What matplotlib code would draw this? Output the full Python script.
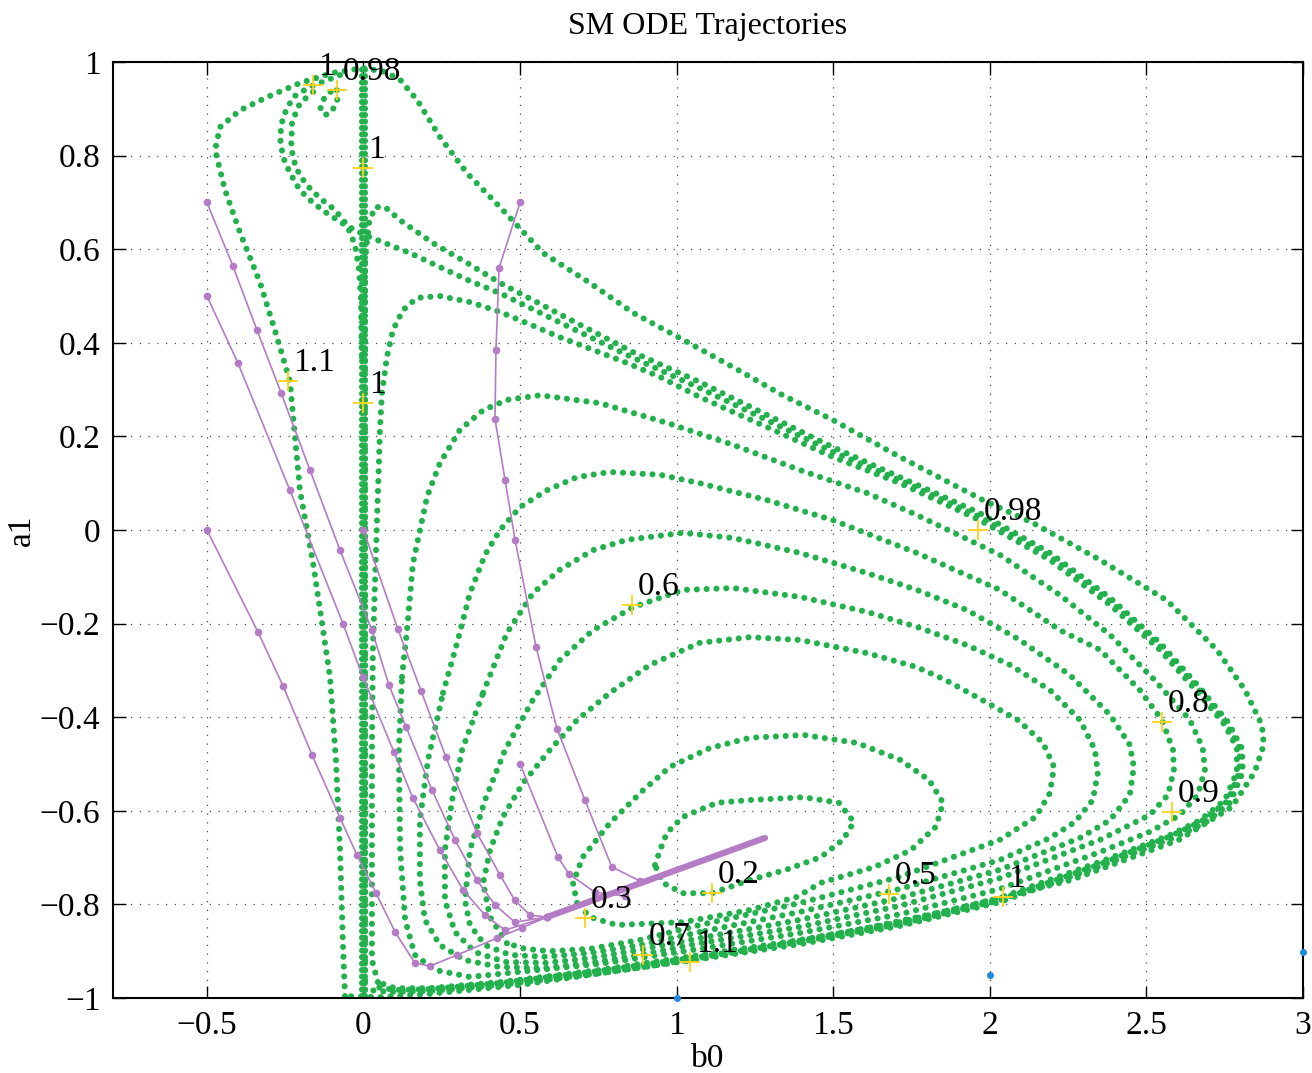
import matplotlib
matplotlib.use("Agg")
import matplotlib.pyplot as plt
from matplotlib.ticker import MultipleLocator, FuncFormatter

plt.rcParams["font.family"] = ["Liberation Serif", "DejaVu Serif"]
plt.rcParams["axes.unicode_minus"] = True

GREEN = "#22B14C"
PURPLE = "#B47CC4"
GOLD = "#FFD21A"
BLUE = "#1B8BDF"

# ---------------------------------------------------------------- data ---
# green trajectories (b0, a1)
loopA_b0 = [0.931, 0.947, 0.969, 1.02, 1.128, 1.234, 1.406, 1.518, 1.566, 1.531, 1.46, 1.349, 1.234, 1.113, 1.02, 0.956, 0.931]
loopA_a1 = [-0.716, -0.684, -0.647, -0.613, -0.583, -0.577, -0.571, -0.583, -0.624, -0.662, -0.699, -0.726, -0.748, -0.776, -0.776, -0.754, -0.716]

loopB_b0 = [0.682, 0.669, 0.7, 0.787, 0.893, 0.979, 1.106, 1.234, 1.406, 1.576, 1.713, 1.806, 1.851, 1.828, 1.748, 1.632, 1.46, 1.384, 1.234, 1.02, 0.809, 0.723, 0.682]
loopB_a1 = [-0.797, -0.754, -0.699, -0.626, -0.556, -0.506, -0.466, -0.444, -0.438, -0.455, -0.491, -0.534, -0.583, -0.634, -0.684, -0.72, -0.754, -0.784, -0.812, -0.838, -0.844, -0.827, -0.797]

loopC_b0 = [0.458, 0.404, 0.382, 0.404, 0.445, 0.509, 0.595, 0.682, 0.787, 0.915, 1.074, 1.234, 1.394, 1.608, 1.767, 1.86, 1.975, 2.09, 2.17, 2.205, 2.192, 2.147, 2.032, 1.713, 1.394, 1.074, 0.883, 0.723, 0.595, 0.516, 0.458]
loopC_a1 = [-0.883, -0.827, -0.754, -0.684, -0.613, -0.541, -0.47, -0.406, -0.348, -0.288, -0.241, -0.229, -0.235, -0.263, -0.293, -0.321, -0.363, -0.406, -0.455, -0.506, -0.562, -0.613, -0.662, -0.741, -0.797, -0.844, -0.876, -0.895, -0.9, -0.895, -0.883]

loopD_b0 = [1.074, 0.883, 0.723, 0.58, 0.468, 0.388, 0.34, 0.324, 0.34, 0.388, 0.452, 0.541, 0.627, 0.733, 0.861, 1.02, 1.18, 1.394, 1.608, 1.767, 1.927, 2.064, 2.192, 2.288, 2.336, 2.345, 2.329, 2.272, 2.192, 2.032, 1.713, 1.394, 1.074]
loopD_a1 = [-0.859, -0.887, -0.904, -0.912, -0.908, -0.887, -0.844, -0.791, -0.684, -0.577, -0.47, -0.363, -0.278, -0.214, -0.165, -0.128, -0.124, -0.143, -0.175, -0.207, -0.246, -0.288, -0.342, -0.406, -0.47, -0.519, -0.577, -0.624, -0.658, -0.705, -0.767, -0.816, -0.859]

loopE_b0 = [0.382, 0.458, 0.541, 0.627, 0.733, 0.841, 1.02, 1.18, 1.394, 1.608, 1.767, 1.927, 2.096, 2.256, 2.384, 2.447, 2.46, 2.447, 2.384, 2.288, 2.032, 1.713, 1.394, 1.074, 0.883, 0.723, 0.58, 0.452, 0.356, 0.292, 0.26, 0.26, 0.283, 0.315, 0.382]
loopE_a1 = [-0.348, -0.22, -0.135, -0.085, -0.043, -0.021, -0.006, -0.017, -0.049, -0.092, -0.128, -0.171, -0.235, -0.31, -0.395, -0.459, -0.506, -0.566, -0.62, -0.658, -0.726, -0.786, -0.833, -0.872, -0.897, -0.915, -0.925, -0.923, -0.902, -0.859, -0.791, -0.684, -0.577, -0.47, -0.348]

loopF_b0 = [0.254, 0.299, 0.34, 0.388, 0.436, 0.5, 0.586, 0.682, 0.787, 0.947, 1.074, 1.288, 1.499, 1.767, 2.032, 2.224, 2.352, 2.479, 2.55, 2.585, 2.588, 2.569, 2.511, 2.352, 2.032, 1.713, 1.394, 1.074, 0.883, 0.723, 0.58, 0.436, 0.324, 0.244, 0.196, 0.18, 0.18, 0.206, 0.254]
loopF_a1 = [-0.348, -0.241, -0.135, -0.053, 0.0, 0.049, 0.085, 0.113, 0.124, 0.118, 0.1, 0.064, 0.021, -0.049, -0.128, -0.214, -0.256, -0.342, -0.406, -0.47, -0.513, -0.566, -0.609, -0.662, -0.744, -0.803, -0.848, -0.883, -0.908, -0.925, -0.936, -0.934, -0.919, -0.887, -0.833, -0.748, -0.62, -0.491, -0.348]

loopG_b0 = [0.123, 0.139, 0.158, 0.203, 0.244, 0.308, 0.382, 0.458, 0.564, 0.755, 0.969, 1.18, 1.394, 1.608, 1.767, 2.032, 2.224, 2.384, 2.527, 2.639, 2.68, 2.687, 2.664, 2.607, 2.511, 2.352, 2.032, 1.713, 1.394, 1.074, 0.755, 0.5, 0.34, 0.228, 0.164, 0.133, 0.117, 0.113, 0.123]
loopG_a1 = [-0.314, -0.214, -0.071, 0.071, 0.143, 0.214, 0.256, 0.278, 0.288, 0.271, 0.229, 0.182, 0.128, 0.079, 0.032, -0.053, -0.139, -0.224, -0.321, -0.406, -0.466, -0.513, -0.566, -0.609, -0.645, -0.688, -0.767, -0.821, -0.861, -0.895, -0.927, -0.944, -0.955, -0.94, -0.908, -0.833, -0.684, -0.47, -0.314]

loopH_b0 = [0.046, 0.027, 0.027, 0.027, 0.03, 0.04, 0.053, 0.059, 0.075, 0.094, 0.126, 0.171, 0.244, 0.34, 0.436, 0.522, 0.627, 0.733, 0.841, 0.947, 1.074, 1.288, 1.499, 1.713, 1.968, 2.192, 2.384, 2.543, 2.672, 2.751, 2.789, 2.789, 2.751, 2.672, 2.575, 2.352, 2.032, 1.713, 1.394, 1.074, 0.755, 0.436, 0.212, 0.101, 0.046]
loopH_a1 = [-0.966, -0.919, -0.684, -0.47, -0.256, -0.043, 0.22, 0.293, 0.37, 0.427, 0.47, 0.496, 0.5, 0.487, 0.466, 0.442, 0.412, 0.385, 0.357, 0.327, 0.284, 0.22, 0.156, 0.1, 0.021, -0.064, -0.16, -0.256, -0.353, -0.417, -0.466, -0.517, -0.577, -0.62, -0.652, -0.709, -0.786, -0.838, -0.876, -0.908, -0.94, -0.966, -0.979, -0.979, -0.966]

loopI_b0 = [-0.059, -0.065, -0.075, -0.088, -0.107, -0.129, -0.161, -0.203, -0.235, -0.283, -0.33, -0.394, -0.442, -0.474, -0.458, -0.394, -0.308, -0.203, -0.097, -0.002, 0.069, 0.117, 0.171, 0.244, 0.33, 0.436, 0.573, 0.723, 0.861, 1.033, 1.18, 1.339, 1.499, 1.713, 1.978, 2.138, 2.352, 2.565, 2.725, 2.815, 2.869, 2.875, 2.846, 2.773, 2.604, 2.259, 1.917, 1.576, 1.234, 0.915, 0.5, 0.212, 0.053, -0.059]
loopI_a1 = [-0.996, -0.897, -0.684, -0.491, -0.314, -0.214, -0.071, 0.085, 0.318, 0.427, 0.528, 0.635, 0.726, 0.812, 0.861, 0.897, 0.925, 0.955, 0.977, 0.987, 0.979, 0.962, 0.919, 0.84, 0.763, 0.69, 0.592, 0.528, 0.464, 0.402, 0.348, 0.288, 0.235, 0.156, 0.064, 0.015, -0.064, -0.15, -0.256, -0.342, -0.417, -0.459, -0.517, -0.592, -0.662, -0.748, -0.806, -0.855, -0.897, -0.932, -0.972, -0.991, -0.998, -0.996]

# trajectories that climb the b0 = 0 column and peel off into the bundle
peelR_b0 = [0.005, 0.005, 0.018, 0.037, 0.069, 0.117, 0.222, 0.33, 0.436, 0.65, 0.861, 1.074, 1.288, 1.499, 1.713, 1.968, 2.192, 2.384, 2.543, 2.672, 2.76, 2.805, 2.808, 2.767, 2.687, 2.585, 2.352, 2.032, 1.713, 1.394, 1.074, 0.755, 0.436, 0.212, 0.085, 0.014]
peelR_a1 = [-0.983, 0.577, 0.658, 0.69, 0.69, 0.662, 0.613, 0.571, 0.528, 0.453, 0.38, 0.316, 0.246, 0.177, 0.113, 0.036, -0.049, -0.145, -0.241, -0.338, -0.41, -0.466, -0.517, -0.583, -0.626, -0.658, -0.718, -0.795, -0.846, -0.885, -0.917, -0.947, -0.972, -0.985, -0.987, -0.983]

hookR_b0 = [-0.075, -0.171, -0.225, -0.257, -0.267, -0.257, -0.235, -0.203, -0.161, -0.117, -0.059, 0.005, 0.069, 0.148, 0.244, 0.34, 0.436, 0.65, 0.861, 1.074, 1.288, 1.499, 1.713, 1.968, 2.192, 2.384, 2.543, 2.672, 2.754, 2.798, 2.798, 2.76, 2.677, 2.578, 2.352, 2.032, 1.713, 1.394, 1.074, 0.755, 0.436, 0.212, 0.101, 0.037]
hookR_a1 = [0.972, 0.947, 0.925, 0.883, 0.84, 0.797, 0.763, 0.726, 0.699, 0.677, 0.652, 0.63, 0.613, 0.592, 0.562, 0.532, 0.506, 0.436, 0.368, 0.303, 0.235, 0.167, 0.107, 0.028, -0.056, -0.152, -0.248, -0.344, -0.412, -0.466, -0.517, -0.579, -0.622, -0.654, -0.714, -0.791, -0.842, -0.88, -0.912, -0.942, -0.968, -0.981, -0.983, -0.976]

hookD_b0 = [-0.161, -0.203, -0.228, -0.231, -0.216, -0.184, -0.139, -0.091, -0.053, -0.027, -0.014, -0.008, -0.005]
hookD_a1 = [0.936, 0.912, 0.872, 0.816, 0.774, 0.739, 0.709, 0.684, 0.652, 0.609, 0.556, 0.491, 0.363]

column_b0 = [0.0, 0.0]
column_a1 = [-0.995, 0.985]

small_b0 = [-0.085, -0.081, -0.091, -0.117, -0.139, -0.129, -0.107, -0.085]
small_a1 = [0.94, 0.925, 0.904, 0.887, 0.897, 0.919, 0.936, 0.94]

# purple trajectories
p1_b0 = [-0.5, -0.417, -0.34, -0.263, -0.171, -0.075, 0.027, 0.081, 0.136, 0.219, 0.292, 0.362, 0.42, 0.483, 0.586]
p1_a1 = [0.7, 0.564, 0.427, 0.293, 0.128, -0.043, -0.214, -0.331, -0.421, -0.556, -0.662, -0.748, -0.801, -0.838, -0.827]
p2_b0 = [-0.5, -0.401, -0.235, -0.065, -0.002, 0.097, 0.158, 0.244, 0.318, 0.388, 0.452, 0.586]
p2_a1 = [0.5, 0.357, 0.085, -0.201, -0.314, -0.474, -0.573, -0.684, -0.769, -0.823, -0.855, -0.827]
p3_b0 = [-0.5, -0.337, -0.257, -0.164, -0.075, -0.021, 0.04, 0.101, 0.164, 0.212, 0.299, 0.426, 0.506, 0.586]
p3_a1 = [0.0, -0.218, -0.333, -0.481, -0.615, -0.694, -0.776, -0.859, -0.925, -0.932, -0.908, -0.872, -0.85, -0.827]
p4_b0 = [0.0, 0.11, 0.184, 0.263, 0.362, 0.436, 0.483, 0.532, 0.586]
p4_a1 = [0.0, -0.212, -0.344, -0.485, -0.647, -0.737, -0.791, -0.823, -0.827]
p5_b0 = [0.5, 0.433, 0.423, 0.42, 0.452, 0.484, 0.551, 0.618, 0.707, 0.793, 0.883]
p5_a1 = [0.7, 0.56, 0.385, 0.237, 0.107, -0.021, -0.25, -0.425, -0.577, -0.72, -0.75]
p6_b0 = [0.5, 0.621, 0.656, 0.739, 0.835]
p6_a1 = [-0.5, -0.699, -0.735, -0.774, -0.782]
sink_b0 = [0.586, 1.282]
sink_a1 = [-0.827, -0.658]

# blue points along the bottom
blue_b0 = [1.0, 2.0, 3.0]
blue_a1 = [-1.0, -0.951, -0.902]

# yellow markers with their labels
mark_b0 = [-0.161, -0.085, -0.002, -0.241, 0.0, 1.962, 0.857, 2.55, 2.582, 2.042, 1.678, 1.113, 0.707, 0.893, 1.043]
mark_a1 = [0.951, 0.94, 0.774, 0.318, 0.271, 0.0, -0.16, -0.41, -0.603, -0.784, -0.778, -0.776, -0.829, -0.908, -0.923]
mark_txt = ["1", "0.98", "1", "1.1", "1", "0.98", "0.6", "0.8", "0.9", "1", "0.5", "0.2", "0.3", "0.7", "1.1"]

green_loops = [
    (loopA_b0, loopA_a1), (loopB_b0, loopB_a1), (loopC_b0, loopC_a1),
    (loopD_b0, loopD_a1), (loopE_b0, loopE_a1), (loopF_b0, loopF_a1),
    (loopG_b0, loopG_a1), (loopH_b0, loopH_a1), (loopI_b0, loopI_a1),
    (peelR_b0, peelR_a1), (hookR_b0, hookR_a1), (hookD_b0, hookD_a1),
    (small_b0, small_a1),
]
purple_lines = [(p1_b0, p1_a1), (p2_b0, p2_a1), (p3_b0, p3_a1),
                (p4_b0, p4_a1), (p5_b0, p5_a1), (p6_b0, p6_a1)]

# ---------------------------------------------------------------- plot ---
fig = plt.figure(figsize=(13.12, 10.73), dpi=100)
ax = fig.add_axes([0.0861, 0.0699, 0.9070, 0.8723])

for b, a in green_loops:
    ax.plot(b, a, color=GREEN, lw=4.4, linestyle=(0, (0.01, 1.6)),
            dash_capstyle="round", zorder=2)
# the b0 = 0 column is packed much tighter
for dx in (-0.004, 0.006):
    ax.plot([v + dx for v in column_b0], column_a1, color=GREEN, lw=4.4,
            linestyle=(0, (0.01, 1.05)), dash_capstyle="round", zorder=2)

for b, a in purple_lines:
    ax.plot(b, a, color=PURPLE, lw=1.2, marker="o", ms=4.5, zorder=3)
ax.plot(sink_b0, sink_a1, color=PURPLE, lw=4.5, solid_capstyle="round", zorder=3)

ax.plot(blue_b0, blue_a1, linestyle="", marker="o", ms=4, color=BLUE,
        zorder=4, clip_on=False)

ax.plot(mark_b0, mark_a1, linestyle="", marker="+", ms=15, mew=1.3,
        color=GOLD, zorder=5)
for b, a, t in zip(mark_b0, mark_a1, mark_txt):
    ax.annotate(t, (b, a), xytext=(4, 2), textcoords="offset points",
                fontsize=24, ha="left", va="bottom", zorder=6)

ax.set_xlim(-0.8, 3)
ax.set_ylim(-1, 1)
ax.xaxis.set_major_locator(MultipleLocator(0.5))
ax.yaxis.set_major_locator(MultipleLocator(0.2))
fmt = FuncFormatter(lambda v, pos: ("%g" % round(v, 6)).replace("-", "\u2212"))
ax.xaxis.set_major_formatter(fmt)
ax.yaxis.set_major_formatter(fmt)
ax.grid(True, linestyle=(0, (1, 6)), color="0.3", lw=0.9)
ax.set_axisbelow(True)
ax.tick_params(direction="in", length=9, width=1, top=True, right=True,
               labelsize=24, pad=9)
for s in ax.spines.values():
    s.set_linewidth(1.5)

ax.set_title("SM ODE Trajectories", fontsize=23, pad=20)
ax.set_xlabel("b0", fontsize=24, labelpad=2)
ax.set_ylabel("a1", fontsize=24, labelpad=2)

fig.savefig("out.png", dpi=100)
